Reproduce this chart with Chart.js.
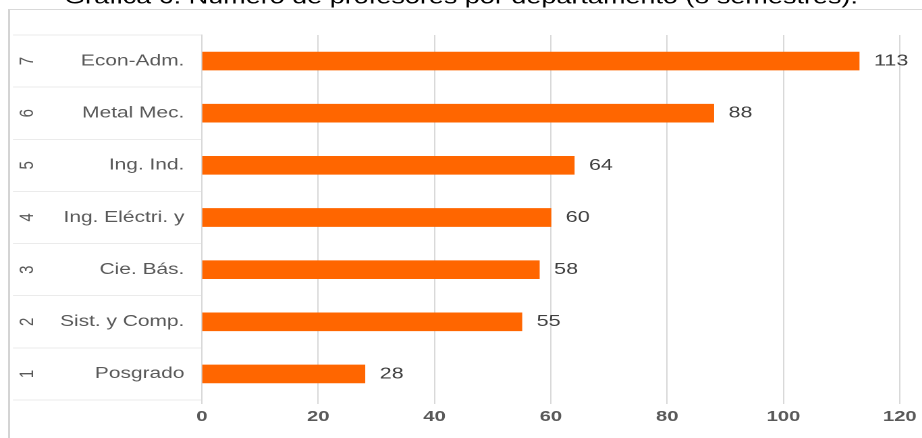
<!DOCTYPE html>
<html>
<head>
<meta charset="utf-8">
<script src="https://cdn.jsdelivr.net/npm/chart.js@4.4.1/dist/chart.umd.min.js"></script>
<style>
html, body { margin: 0; padding: 0; background: #fff; overflow: hidden; }
body { width: 922px; height: 438px; position: relative; }
#frame { position: absolute; left: 8px; top: 9px; width: 1000px; height: 1000px;
         border-top: 1px solid #d9d9d9; border-left: 2px solid #d4d4d4; }
#wrap { position: absolute; left: 0; top: -14px; width: 683px; height: 452px;
        transform: scaleX(1.35); transform-origin: 0 0; }
</style>
</head>
<body>
<div id="frame"></div>
<div id="wrap"><canvas id="bar-chart"></canvas></div>
<script>
var titulo = 'Gráfica 6. Número de profesores por departamento (8 semestres).';
var departamentos = ['Econ-Adm.', 'Metal Mec.', 'Ing. Ind.', 'Ing. Eléctri. y', 'Cie. Bás.', 'Sist. y Comp.', 'Posgrado'];
var numeros = ['7', '6', '5', '4', '3', '2', '1'];
var profesores = [113, 88, 64, 60, 58, 55, 28];
var ticksX = [0, 20, 40, 60, 80, 100, 120];

// numbers of each row, rotated, on the far left of the label table
var numerosPlugin = {
    id: 'numeros',
    afterDraw: function (chart) {
        var ctx = chart.ctx;
        var y = chart.scales.y;
        ctx.save();
        ctx.fillStyle = '#595959';
        ctx.font = '15px "Liberation Sans", Arial, sans-serif';
        ctx.textAlign = 'center';
        ctx.textBaseline = 'middle';
        for (var i = 0; i < numeros.length; i++) {
            ctx.save();
            ctx.translate(20.5, y.getPixelForValue(i));
            ctx.rotate(-Math.PI / 2);
            ctx.fillText(numeros[i], 0, 0);
            ctx.restore();
        }
        ctx.restore();
    }
};

// value at the end of every bar
var valoresPlugin = {
    id: 'valores',
    afterDatasetsDraw: function (chart) {
        var ctx = chart.ctx;
        var meta = chart.getDatasetMeta(0);
        ctx.save();
        ctx.fillStyle = '#404040';
        ctx.font = '16px "Liberation Sans", Arial, sans-serif';
        ctx.textAlign = 'left';
        ctx.textBaseline = 'middle';
        meta.data.forEach(function (bar, i) {
            ctx.fillText(profesores[i], bar.x + 11, bar.y);
        });
        ctx.restore();
    }
};

new Chart(document.getElementById('bar-chart'), {
    type: 'bar',
    data: {
        labels: departamentos,
        datasets: [{
            label: 'Profesores',
            data: profesores,
            backgroundColor: '#ff6600',
            borderWidth: 0,
            barThickness: 18
        }]
    },
    options: {
        indexAxis: 'y',
        responsive: true,
        maintainAspectRatio: false,
        devicePixelRatio: 2,
        animation: false,
        layout: { padding: { top: 0, right: 15, bottom: 8, left: 15 } },
        plugins: {
            legend: { display: false },
            tooltip: { enabled: false },
            title: {
                display: true,
                text: titulo,
                color: '#000',
                font: { family: '"Liberation Sans", Arial, sans-serif', size: 20, weight: 'normal', lineHeight: 1.2 },
                padding: { top: 0, bottom: 25 }
            }
        },
        scales: {
            x: {
                min: 0,
                max: 120,
                afterBuildTicks: function (axis) {
                    axis.ticks = ticksX.map(function (v) { return { value: v }; });
                },
                border: { display: false },
                grid: { color: '#d9d9d9', tickLength: 4, drawTicks: true },
                ticks: {
                    color: '#595959',
                    padding: 4,
                    font: { family: '"Liberation Sans", Arial, sans-serif', size: 15, weight: 'bold' }
                }
            },
            y: {
                afterFit: function (scale) { scale.width = 134.6; },
                border: { display: true, color: '#d9d9d9' },
                grid: { offset: true, drawOnChartArea: false, tickLength: 140, color: '#ebebeb' },
                ticks: {
                    color: '#595959',
                    padding: -127,
                    font: { family: '"Liberation Sans", Arial, sans-serif', size: 15.5 }
                }
            }
        }
    },
    plugins: [numerosPlugin, valoresPlugin]
});
</script>
</body>
</html>
